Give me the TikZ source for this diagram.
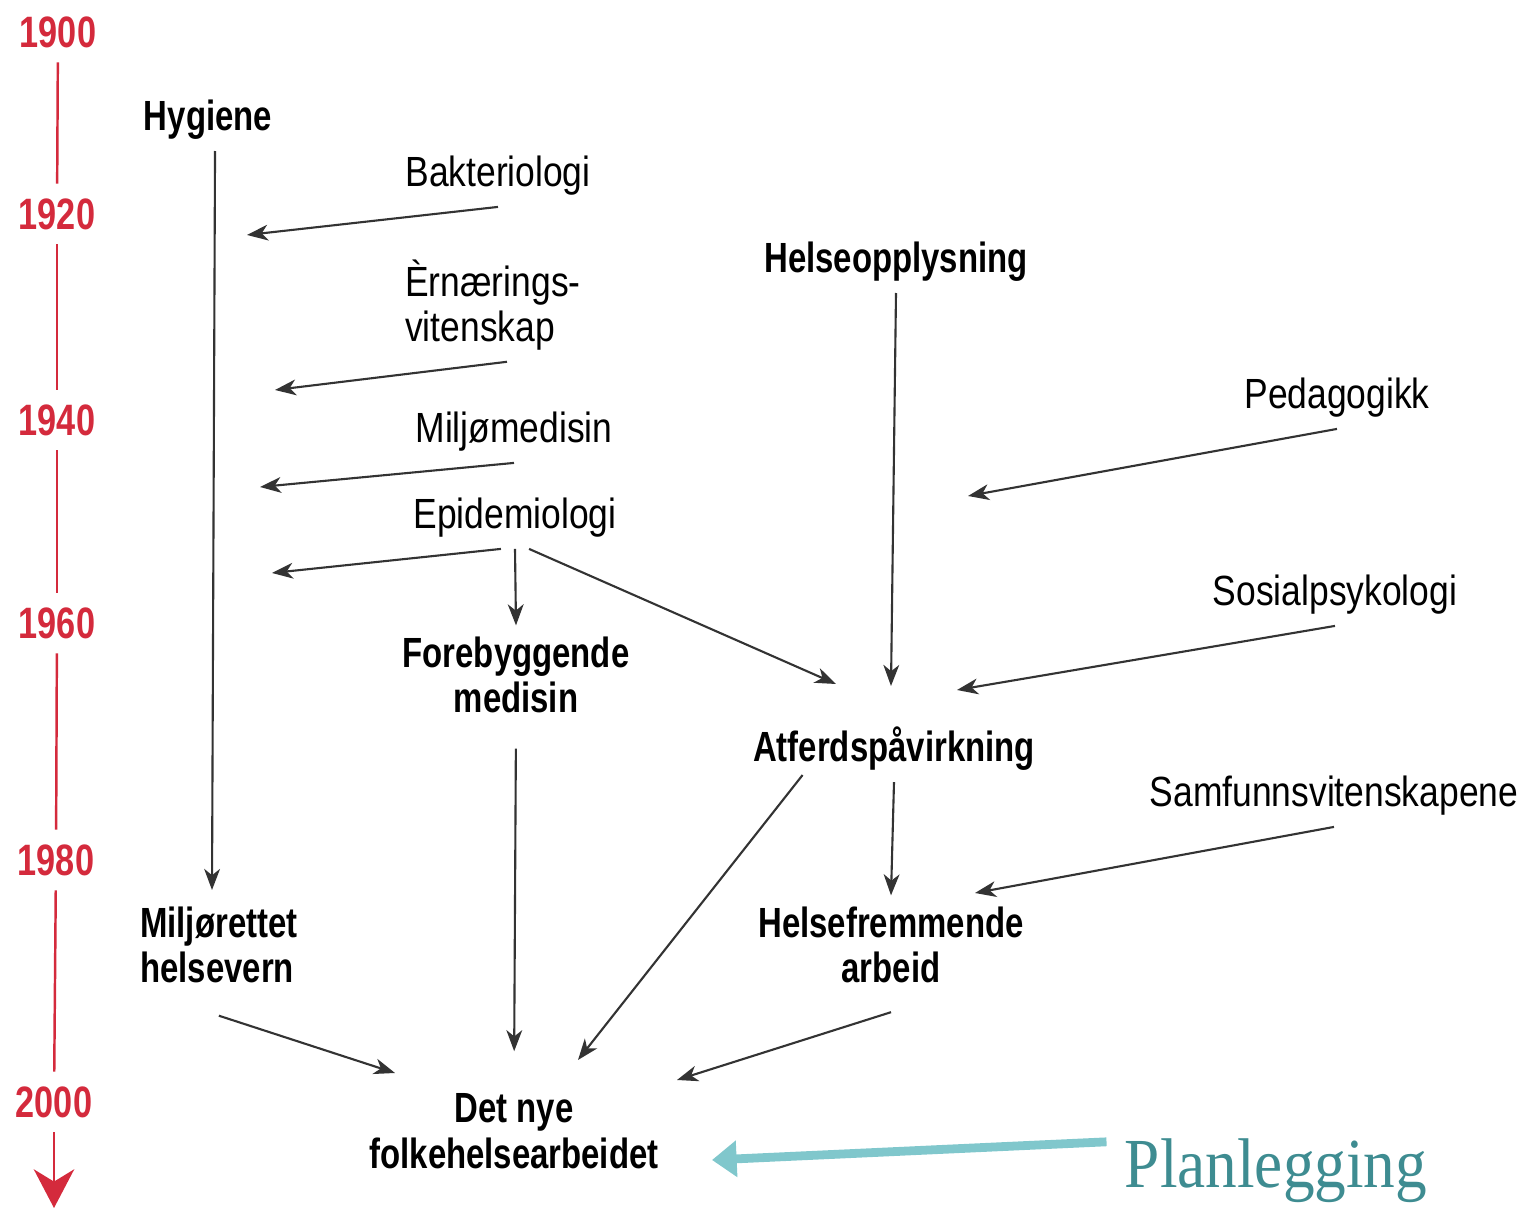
\documentclass[tikz,border=0pt]{standalone}
\usepackage{fontspec}
\usetikzlibrary{arrows.meta}

\newfontfamily\labelfont{Liberation Sans}[FakeStretch=0.84]
\newfontfamily\headfont{Liberation Sans}[FakeStretch=0.78]
\newfontfamily\planfont{Liberation Serif}[FakeStretch=0.9]

\definecolor{yearred}{HTML}{D42A3C}
\definecolor{planteal}{HTML}{3E8C91}
\definecolor{planarrow}{HTML}{80C7CC}
\definecolor{flowgray}{HTML}{333333}

\begin{document}
\begin{tikzpicture}[x=0.01cm, y=-0.01cm,
    year/.style={font=\headfont\bfseries\fontsize{12.5}{14}\selectfont, text=yearred, inner sep=0pt},
    timeline/.style={yearred, line width=0.7pt, shorten <=4pt, shorten >=4pt},
    field/.style={font=\labelfont\fontsize{12}{13}\selectfont, inner sep=3pt},
    topic/.style={font=\headfont\bfseries\fontsize{12}{13}\selectfont, inner sep=3pt},
    flow/.style={flowgray, line width=0.6pt, -{Stealth[length=6pt, width=4.5pt, inset=1.8pt]}}
]

    % Fix the canvas to the reference size
    \useasboundingbox (0,0) rectangle (1536,1210);

    % Timeline with years
    \node[year] (yr1900) at (58,32) {1900};
    \node[year] (yr1920) at (57,214) {1920};
    \node[year] (yr1940) at (57,420) {1940};
    \node[year] (yr1960) at (57,623) {1960};
    \node[year] (yr1980) at (56,860) {1980};
    \node[year] (yr2000) at (54,1102) {2000};
    \coordinate (tlend) at (54,1208);

    \foreach \a/\b in {1900/1920,1920/1940,1940/1960,1960/1980,1980/2000} {
        \draw[timeline] (yr\a) -- (yr\b);
    }
    \draw[timeline, shorten >=0pt, -{Stealth[length=11pt, width=11.5pt, inset=3.5pt]}] (yr2000) -- (tlend);

    % Main fields (bold)
    \node[topic] (hyg) at (208,120) {Hygiene};
    \node[topic] (helse) at (896,262) {Helseopplysning};
    \node[topic, align=center] (foreb) at (516,675) {Forebyggende\\medisin};
    \node[topic] (atferd) at (894,749) {Atferdspåvirkning};
    \node[topic, align=left, anchor=west] (miljr) at (129,945) {Miljørettet\\helsevern};
    \node[topic, align=center] (helsefr) at (891,945) {Helsefremmende\\arbeid};
    \node[topic, align=center] (detnye) at (514,1131) {Det nye\\folkehelsearbeidet};

    % Contributing sciences
    \node[field] (bakt) at (498,176) {Bakteriologi};
    \node[field, align=left, anchor=west] (ern) at (394,305) {Èrnærings-\\vitenskap};
    \node[field] (miljo) at (514,432) {Miljømedisin};
    \node[field] (epid) at (515,518) {Epidemiologi};
    \node[field] (peda) at (1337,398) {Pedagogikk};
    \node[field] (sosial) at (1335,595) {Sosialpsykologi};
    \node[field] (samf) at (1334,796) {Samfunnsvitenskapene};

    % Planning
    \node[font=\planfont\fontsize{20}{22}\selectfont, text=planteal, inner sep=0pt] (plan) at (1276,1171) {Planlegging};

    % Free arrow ends
    \coordinate (hygend) at (212,890);
    \coordinate (baktend) at (247,235);
    \coordinate (ernend) at (275,390);
    \coordinate (miljoend) at (260,487);
    \coordinate (epidend) at (272,573);
    \coordinate (epatend) at (836,684);
    \coordinate (helseend) at (891,686);
    \coordinate (pedaend) at (968,496);
    \coordinate (sosialend) at (957,690);
    \coordinate (atdetend) at (578,1060);
    \coordinate (samfend) at (975,893);
    \coordinate (miljrend) at (395,1073);
    \coordinate (helsefrend) at (677,1080);
    \coordinate (planend) at (712,1160);

    % Arrows into Hygiene
    \draw[flow] ([xshift=2pt]hyg.south) -- (hygend);
    \draw[flow] (bakt.south) -- (baktend);
    \draw[flow] ([xshift=4pt]ern.south) -- (ernend);
    \draw[flow] (miljo.south) -- (miljoend);
    \draw[flow] ([xshift=-4pt]epid.south) -- (epidend);

    % Epidemiologi onwards
    \draw[flow] (epid.south) -- (foreb.north);
    \draw[flow] ([xshift=4pt]epid.south) -- (epatend);

    % Arrows into Atferdspåvirkning
    \draw[flow] (helse.south) -- (helseend);
    \draw[flow] (peda.south) -- (pedaend);
    \draw[flow] (sosial.south) -- (sosialend);

    % Lower part
    \draw[flow] (atferd.south) -- (helsefr.north);
    \draw[flow] (samf.south) -- (samfend);
    \draw[flow, shorten <=6.8pt, shorten >=8.8pt] (foreb.south) -- (detnye.north);
    \draw[flow] ([xshift=-26pt,yshift=2pt]atferd.south) -- (atdetend);
    \draw[flow] ([yshift=-6pt]miljr.south) -- (miljrend);
    \draw[flow] ([yshift=-5pt]helsefr.south) -- (helsefrend);

    % Planning arrow
    \draw[planarrow, line width=2.5pt, -{Triangle[length=7pt, width=10pt]}] ([xshift=-5pt,yshift=-1pt]plan.north west) -- (planend);

\end{tikzpicture}
\end{document}
